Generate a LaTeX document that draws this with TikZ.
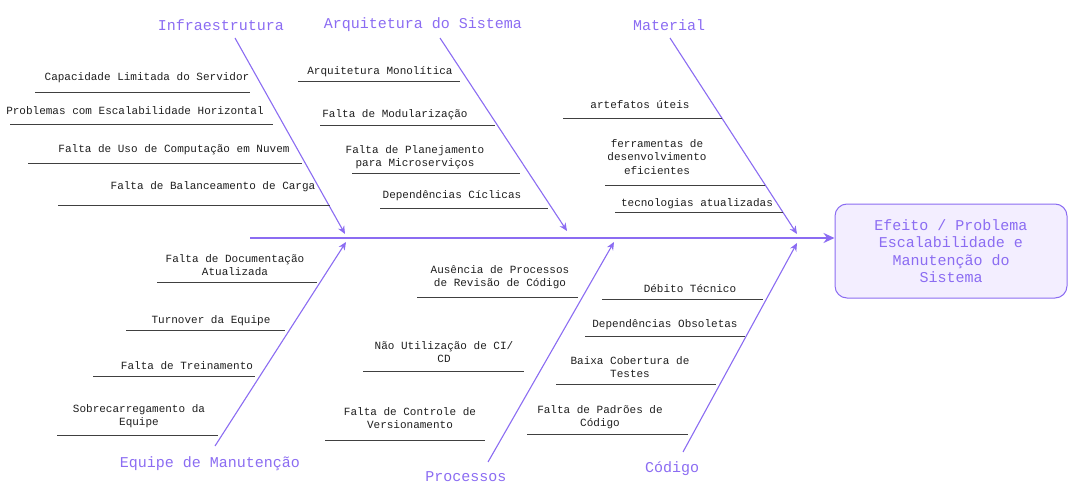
\documentclass[tikz,border=0pt]{standalone}
\usepackage{fontspec}
\setmainfont{Liberation Mono}
\usetikzlibrary{arrows.meta,patterns}
\definecolor{vio}{HTML}{8B6CF2}
\definecolor{vfill}{HTML}{F3EEFF}
\definecolor{ink}{HTML}{1E1E1E}
\tikzset{
 bone/.style={draw=vio,line width=1.1pt,-{Stealth[length=8pt,width=7pt]}},
 spine/.style={draw=vio,line width=2pt,-{Stealth[length=11pt,width=10pt]}},
 sub/.style={draw=ink!85,line width=0.9pt},
 lab/.style={text=ink,font=\fontsize{11}{13.5}\selectfont,align=center,inner sep=0pt},
 ttl/.style={text=vio,font=\fontsize{15}{17}\selectfont,inner sep=0pt},
}
\begin{document}
\begin{tikzpicture}[x=1pt,y=-1pt]
\useasboundingbox (0,0) rectangle (1082,492);
% effect
\node[draw=vio,line width=1pt,rounded corners=12pt,fill=vfill,minimum width=232pt,minimum height=94pt,
 text=vio,font=\fontsize{15}{17.5}\selectfont,align=center] (eff) at (951,251)
 {Efeito / Problema\\Escalabilidade e\\Manutenção do\\Sistema};
\coordinate (s0) at (250,238);
\draw[spine] (s0) -- (s0 -| eff.west);
% titles
\node[ttl] (t1) at (221,25) {Infraestrutura};
\node[ttl] (t2) at (423,25) {Arquitetura do Sistema};
\node[ttl] (t3) at (669,25) {Material};
\node[ttl] (t4) at (210,464) {Equipe de Manutenção};
\node[ttl] (t5) at (466,477) {Processos};
\node[ttl] (t6) at (672,469) {Código};
% bones
\coordinate (b1) at (235,38); \coordinate (e1) at (345,234);
\coordinate (b2) at (440,38); \coordinate (e2) at (567,231);
\coordinate (b3) at (670,38); \coordinate (e3) at (797,234);
\coordinate (b4) at (215,446); \coordinate (e4) at (346,242);
\coordinate (b5) at (488,462); \coordinate (e5) at (614,242);
\coordinate (b6) at (683,452); \coordinate (e6) at (797,243);
\draw[bone] (b1) -- (e1);
\draw[bone] (b2) -- (e2);
\draw[bone] (b3) -- (e3);
\draw[bone] (b4) -- (e4);
\draw[bone] (b5) -- (e5);
\draw[bone] (b6) -- (e6);
% sub causes
\newcommand{\cause}[7]{%
 \node[lab] (#1) at (#2,#3) {#7};
 \draw[sub] (#4,#6) coordinate (#1a) -- (#5,#6) coordinate (#1b);}
\cause{i1}{147}{78}{35}{250}{92}{Capacidade Limitada do Servidor}
\cause{i2}{135}{111}{10}{273}{124}{Problemas com Escalabilidade Horizontal}
\cause{i3}{174}{150}{28}{302}{163}{Falta de Uso de Computação em Nuvem}
\cause{i4}{213}{187}{58}{330}{205}{Falta de Balanceamento de Carga}
\cause{a1}{380}{72}{298}{460}{81}{Arquitetura Monolítica}
\cause{a2}{395}{115}{320}{495}{125}{Falta de Modularização}
\cause{a3}{415}{157}{352}{520}{173}{Falta de Planejamento\\para Microserviços}
\cause{a4}{452}{196}{380}{548}{208}{Dependências Cíclicas}
\cause{m1}{640}{105}{563}{722}{118}{artefatos úteis}
\cause{m2}{657}{157}{605}{765}{185}{ferramentas de\\desenvolvimento\\eficientes}
\cause{m3}{697}{204}{615}{783}{212}{tecnologias atualizadas}
\cause{q1}{235}{265}{157}{317}{282}{Falta de Documentação\\Atualizada}
\cause{q2}{211}{321}{126}{285}{330}{Turnover da Equipe}
\cause{q3}{187}{366}{93}{255}{376}{Falta de Treinamento}
\cause{q4}{139}{416}{57}{218}{435}{Sobrecarregamento da\\Equipe}
\cause{p1}{500}{277}{417}{578}{297}{Ausência de Processos\\de Revisão de Código}
\cause{p2}{444}{352}{363}{524}{371}{Não Utilização de CI/\\CD}
\cause{p3}{410}{418}{325}{485}{440}{Falta de Controle de\\Versionamento}
\cause{c1}{690}{289}{602}{763}{299}{Débito Técnico}
\cause{c2}{665}{325}{585}{745}{336}{Dependências Obsoletas}
\cause{c3}{630}{367}{556}{716}{384}{Baixa Cobertura de\\Testes}
\cause{c4}{600}{417}{527}{688}{434}{Falta de Padrões de\\Código}
\end{tikzpicture}
\end{document}
